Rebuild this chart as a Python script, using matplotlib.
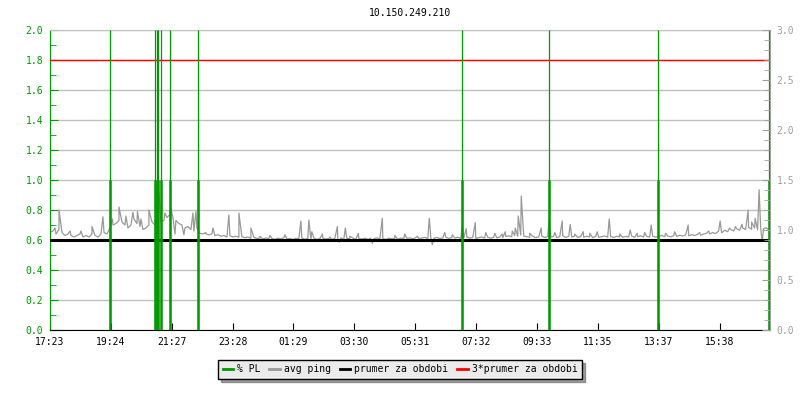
import numpy as np
import matplotlib
matplotlib.use("Agg")
import matplotlib.pyplot as plt
from matplotlib.lines import Line2D
from matplotlib.ticker import MultipleLocator, FormatStrFormatter

# osa x v minutach od 17:23
tick_labels = ["17:23", "19:24", "21:27", "23:28", "01:29", "03:30",
               "05:31", "07:32", "09:33", "11:35", "13:37", "15:38"]
tick_step = 121.8

# avg ping, vzorek kazdych 6 minut
base_ping = [
    0.65, 0.66, 0.64, 0.67, 0.65, 0.63, 0.64, 0.63, 0.62, 0.63,
    0.64, 0.62, 0.63, 0.62, 0.64, 0.63, 0.62, 0.64, 0.65, 0.64,
    0.68, 0.70, 0.71, 0.73, 0.72, 0.70, 0.68, 0.70, 0.74, 0.71,
    0.69, 0.67, 0.68, 0.70, 0.72, 0.70, 0.74, 0.72, 0.73, 0.75,
    0.77, 0.75, 0.73, 0.71, 0.70, 0.68, 0.69, 0.67, 0.66, 0.68,
    0.645, 0.64, 0.65, 0.635, 0.64, 0.63, 0.635, 0.625, 0.63, 0.62,
    0.628, 0.62, 0.625, 0.618, 0.622, 0.615, 0.62, 0.612, 0.618, 0.61,
    0.612, 0.606, 0.614, 0.608, 0.61, 0.604, 0.612, 0.607, 0.615, 0.606,
    0.61, 0.603, 0.611, 0.608, 0.613, 0.605, 0.61, 0.607, 0.614, 0.604,
    0.609, 0.612, 0.606, 0.61, 0.603, 0.611, 0.607, 0.614, 0.605, 0.61,
    0.608, 0.613, 0.604, 0.61, 0.607, 0.612, 0.605, 0.611, 0.608, 0.614,
    0.606, 0.61, 0.604, 0.612, 0.608, 0.611, 0.605, 0.613, 0.609, 0.611,
    0.614, 0.608, 0.616, 0.61, 0.613, 0.618, 0.609, 0.615, 0.612, 0.617,
    0.61, 0.614, 0.619, 0.611, 0.616, 0.613, 0.618, 0.612, 0.615, 0.62,
    0.613, 0.617, 0.611, 0.616, 0.62, 0.614, 0.618, 0.612, 0.619, 0.615,
    0.62, 0.616, 0.624, 0.628, 0.622, 0.63, 0.625, 0.632, 0.626, 0.622,
    0.618, 0.624, 0.616, 0.621, 0.626, 0.617, 0.623, 0.619, 0.625, 0.616,
    0.622, 0.628, 0.618, 0.624, 0.62, 0.626, 0.617, 0.623, 0.619, 0.625,
    0.62, 0.616, 0.624, 0.618, 0.622, 0.627, 0.619, 0.623, 0.617, 0.625,
    0.621, 0.618, 0.624, 0.62, 0.626, 0.618, 0.622, 0.628, 0.62, 0.624,
    0.62, 0.626, 0.619, 0.624, 0.63, 0.622, 0.627, 0.621, 0.629, 0.624,
    0.632, 0.626, 0.634, 0.628, 0.636, 0.63, 0.638, 0.632, 0.64, 0.645,
    0.64, 0.65, 0.643, 0.66, 0.648, 0.665, 0.655, 0.67, 0.66, 0.675,
    0.665, 0.68, 0.67, 0.685, 0.672, 0.68, 0.668, 0.69, 0.675, 0.68,
    0.66, 0.67, 0.665, 0.675, 0.66, 0.68, 0.665, 0.67, 0.66, 0.665,
    0.64,
]
base_step = 6

# vetsi spicky pingu (minuta, hodnota)
spike_t = [18, 84, 106, 138, 166, 198, 218, 230, 242, 286, 292, 326, 358,
           378, 402, 502, 518, 524, 575, 579, 591, 617, 645, 665, 759, 765,
           825, 833, 851, 911, 931, 937, 943, 983, 999, 1025, 1041, 1067,
           1119, 1161, 1203, 1277, 1341, 1397, 1411, 1419, 1425]
spike_v = [0.80, 0.69, 0.755, 0.82, 0.785, 0.80, 0.92, 0.78, 0.81, 0.78,
           0.79, 0.68, 0.767, 0.78, 0.68, 0.727, 0.733, 0.655, 0.69, 0.585,
           0.68, 0.645, 0.578, 0.745, 0.745, 0.57, 0.69, 0.675, 0.716,
           0.655, 0.68, 0.76, 0.893, 0.68, 0.737, 0.727, 0.704, 0.656,
           0.74, 0.667, 0.70, 0.70, 0.727, 0.80, 0.745, 0.935, 0.59]

# male spicky
small_t = [10, 40, 62, 125, 152, 175, 182, 250, 268, 312, 340, 420, 440,
           470, 545, 560, 600, 690, 710, 735, 790, 805, 872, 890, 905, 925,
           960, 1010, 1050, 1080, 1095, 1140, 1175, 1190, 1232, 1250, 1300,
           1318, 1360, 1372, 1385, 1404, 1432]
small_v = [0.68, 0.66, 0.66, 0.74, 0.76, 0.79, 0.74, 0.64, 0.635, 0.64,
           0.63, 0.625, 0.63, 0.635, 0.64, 0.62, 0.625, 0.63, 0.64, 0.625,
           0.65, 0.635, 0.65, 0.645, 0.64, 0.66, 0.645, 0.65, 0.64, 0.645,
           0.655, 0.64, 0.645, 0.65, 0.645, 0.655, 0.65, 0.66, 0.68, 0.69,
           0.705, 0.72, 0.68]

# ztraty paketu
pl_t = [121, 211, 214, 217, 223, 241, 297, 825, 998, 1216, 1439]

prumer = 0.6

t = np.concatenate([np.arange(len(base_ping)) * base_step, spike_t, small_t])
v = np.concatenate([base_ping, spike_v, small_v])
order = np.argsort(t, kind="stable")
t, v = t[order], v[order]

plt.rcParams['font.family'] = ['DejaVu Sans Mono']
plt.rcParams['font.size'] = 7

GREEN = "#009900"
GRAY = "#a0a0a0"

fig = plt.figure(figsize=(8, 4), dpi=100)
ax = fig.add_axes([0.0625, 0.175, 0.8995, 0.75])

ax.set_xlim(0, 1440)
ax.set_ylim(0, 2.0)
ax.yaxis.set_major_locator(MultipleLocator(0.2))
ax.yaxis.set_minor_locator(MultipleLocator(0.1))
ax.grid(axis="y", color="#c0c0c0", lw=1)
ax.set_axisbelow(True)

ax.plot(t, v, color="#999999", lw=0.9, zorder=2)
ax.axhline(prumer, color="black", lw=2.2, zorder=3)
ax.axhline(3 * prumer, color="red", lw=1, zorder=3)
ax.vlines(pl_t, 0, 2.0, color=GREEN, lw=0.9, zorder=4)
ax.vlines(pl_t, 0, 1.0, color=GREEN, lw=1.8, zorder=4)

ax.set_xticks(np.arange(len(tick_labels)) * tick_step)
ax.set_xticklabels(tick_labels)
ax.tick_params(axis="x", direction="in", length=5, pad=5, colors="black")
ax.tick_params(axis="y", which="major", direction="in", length=6, pad=5,
               colors=GREEN, labelcolor=GREEN)
ax.tick_params(axis="y", which="minor", direction="in", length=4, colors=GREEN)
ax.yaxis.set_major_formatter(FormatStrFormatter("%.1f"))

ax.spines["left"].set_color(GREEN)
ax.spines["bottom"].set_color("black")
ax.spines["top"].set_color("#c0c0c0")
ax.spines["right"].set_visible(False)

ax2 = ax.twinx()
ax2.set_ylim(0, 3.0)
ax2.yaxis.set_major_locator(MultipleLocator(0.5))
ax2.yaxis.set_minor_locator(MultipleLocator(0.1))
ax2.yaxis.set_major_formatter(FormatStrFormatter("%.1f"))
ax2.tick_params(axis="y", which="major", direction="in", length=6, pad=5,
                colors=GRAY, labelcolor=GRAY)
ax2.tick_params(axis="y", which="minor", direction="in", length=4, colors=GRAY)
for s in ["left", "top", "bottom"]:
    ax2.spines[s].set_visible(False)
ax2.spines["right"].set_color(GRAY)

ax.set_title("10.150.249.210", fontsize=7, pad=10)

handles = [Line2D([], [], color=GREEN, lw=2),
           Line2D([], [], color="#999999", lw=2),
           Line2D([], [], color="black", lw=2),
           Line2D([], [], color="red", lw=2)]
labels = ["% PL", "avg ping", "prumer za obdobi", "3*prumer za obdobi"]
leg = fig.legend(handles, labels, loc="upper center", bbox_to_anchor=(0.5, 0.112),
                 ncol=4, frameon=True, fancybox=False, shadow=True,
                 handlelength=1.1, handletextpad=0.4, columnspacing=0.9,
                 borderpad=0.45, fontsize=7)
leg.get_frame().set_facecolor("#ebebeb")
leg.get_frame().set_edgecolor("black")
leg.get_frame().set_alpha(1)

fig.savefig("out.png", dpi=100)
